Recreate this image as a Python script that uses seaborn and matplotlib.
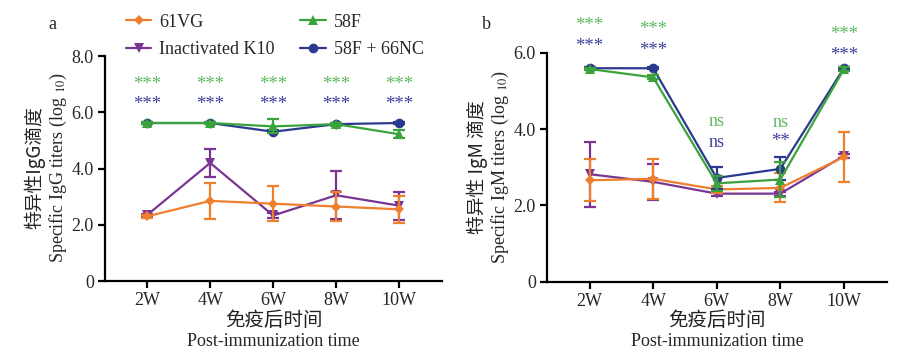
import matplotlib
matplotlib.use("Agg")
import matplotlib.pyplot as plt
import seaborn as sns
import numpy as np

sns.set_style("ticks")
plt.rcParams['font.family'] = ['Liberation Serif', 'Noto Sans CJK SC']
plt.rcParams['mathtext.fontset'] = 'stix'

# data
weeks = ['2W', '4W', '6W', '8W', '10W']
groups = ['61VG', 'Inactivated K10', '58F', '58F + 66NC']

igg_mean = {
    '61VG': [2.3, 2.85, 2.75, 2.65, 2.55],
    'Inactivated K10': [2.35, 4.2, 2.33, 3.05, 2.68],
    '58F': [5.62, 5.62, 5.5, 5.58, 5.22],
    '58F + 66NC': [5.62, 5.62, 5.31, 5.58, 5.62],
}
igg_sd = {
    '61VG': [0.05, 0.63, 0.62, 0.53, 0.48],
    'Inactivated K10': [0.05, 0.5, 0.1, 0.86, 0.5],
    '58F': [0.03, 0.03, 0.25, 0.05, 0.15],
    '58F + 66NC': [0.03, 0.03, 0.05, 0.03, 0.03],
}
igm_mean = {
    '61VG': [2.66, 2.7, 2.42, 2.46, 3.27],
    'Inactivated K10': [2.82, 2.62, 2.31, 2.31, 3.3],
    '58F': [5.58, 5.36, 2.58, 2.68, 5.57],
    '58F + 66NC': [5.6, 5.6, 2.72, 2.96, 5.6],
}
igm_sd = {
    '61VG': [0.55, 0.53, 0.1, 0.38, 0.66],
    'Inactivated K10': [0.85, 0.47, 0.05, 0.05, 0.05],
    '58F': [0.03, 0.05, 0.2, 0.45, 0.05],
    '58F + 66NC': [0.03, 0.03, 0.3, 0.3, 0.03],
}

# significance labels (58F row, 58F + 66NC row)
igg_sig_58f = ['***', '***', '***', '***', '***']
igg_sig_nc = ['***', '***', '***', '***', '***']
igm_sig_58f = ['***', '***', 'ns', 'ns', '***']
igm_sig_nc = ['***', '***', 'ns', '**', '***']
igg_sig_y = ([7.15] * 5, [6.44] * 5)
igm_sig_y = ([6.82, 6.73, 4.25, 4.21, 6.6], [6.28, 6.18, 3.68, 3.78, 6.04])

colors = {'61VG': '#EE7F2D', 'Inactivated K10': '#7A3594',
          '58F': '#3BA33B', '58F + 66NC': '#2B3A8E'}
markers = {'61VG': 'D', 'Inactivated K10': 'v', '58F': '^', '58F + 66NC': 'o'}
msizes = {'61VG': 5, 'Inactivated K10': 6.5, '58F': 7, '58F + 66NC': 7}
sig_green = '#5DB95D'
sig_blue = '#3C3F9C'
cjk = ['Noto Sans CJK SC', 'DejaVu Sans']

fig = plt.figure(figsize=(9.22, 3.61), dpi=100)
ax_a = fig.add_axes([0.1139, 0.2216, 0.3655, 0.623])
ax_b = fig.add_axes([0.5933, 0.2197, 0.3688, 0.6335])

xpos = np.arange(len(weeks))
draw_order = ['Inactivated K10', '61VG', '58F + 66NC', '58F']


def panel(ax, means, sds, sig58, signc, sig_y, ymax, ylab_cn, ylab_en, tag, tag_x):
    for g in draw_order:
        sns.lineplot(x=xpos, y=means[g], color=colors[g], marker=markers[g],
                     markersize=msizes[g], markeredgewidth=0, linewidth=1.6,
                     label=g, ax=ax, legend=False)
        ax.errorbar(xpos, means[g], yerr=sds[g], fmt='none', ecolor=colors[g],
                    elinewidth=1.6, capsize=4, capthick=1.6)
    ax.set_xlim(-0.67, 4.68)
    ax.set_ylim(0, ymax)
    ax.set_xticks(xpos)
    ax.set_xticklabels(weeks)
    ticks = np.arange(0, ymax + 0.1, 2)
    ax.set_yticks(ticks)
    ax.set_yticklabels(['0'] + [f'{t:.1f}' for t in ticks[1:]])
    sns.despine(ax=ax)
    for s in ['left', 'bottom']:
        ax.spines[s].set_linewidth(1.6)
        ax.spines[s].set_color('black')
    ax.tick_params(axis='both', direction='out', length=5, width=1.6,
                   labelsize=13, color='black', pad=3)
    ax.set_xlabel('')
    ax.set_ylabel('')
    for i in range(len(weeks)):
        for lab, yy, col in [(sig58[i], sig_y[0][i], sig_green),
                             (signc[i], sig_y[1][i], sig_blue)]:
            is_ns = lab == 'ns'
            # asterisks sit high in the glyph box, so nudge them down a little
            ax.annotate(lab, (xpos[i], yy), xytext=(0, -1 if is_ns else -3),
                        textcoords='offset points', color=col, ha='center',
                        va='center', fontsize=13 if is_ns else 13.5,
                        annotation_clip=False)

    pos = ax.get_position()
    cx = (pos.x0 + pos.x1) / 2
    fig.text(cx, 0.113, '免疫后时间', ha='center', va='center', fontsize=14,
             family=cjk, fontweight='light', color='#222222')
    fig.text(cx, 0.053, 'Post-immunization time', ha='center', va='center',
             fontsize=13)
    fig.text(pos.x0 - 0.076, 0.536, ylab_cn, rotation=90, ha='center', va='center',
             fontsize=13.5, family=cjk, fontweight='light', color='#222222')
    fig.text(pos.x0 - 0.051, 0.536, ylab_en, rotation=90, ha='center',
             va='center', fontsize=13)
    fig.text(tag_x, 0.933, tag, ha='center', va='center', fontsize=13)


panel(ax_a, igg_mean, igg_sd, igg_sig_58f, igg_sig_nc, igg_sig_y, 8,
      '特异性IgG滴度', 'Specific IgG titers (log $_{10}$)', 'a', 0.057)
panel(ax_b, igm_mean, igm_sd, igm_sig_58f, igm_sig_nc, igm_sig_y, 6,
      '特异性 IgM 滴度', 'Specific IgM titers (log $_{10}$)', 'b', 0.528)

handles, labels = ax_a.get_legend_handles_labels()
order = [labels.index(g) for g in groups]
fig.legend([handles[i] for i in order], [labels[i] for i in order],
           loc='upper left', bbox_to_anchor=(0.124, 0.995), ncol=2,
           frameon=False, fontsize=13, handlelength=1.4, handletextpad=0.45,
           columnspacing=1.4, labelspacing=0.6, borderaxespad=0.25)

fig.savefig('out.png', dpi=100)
